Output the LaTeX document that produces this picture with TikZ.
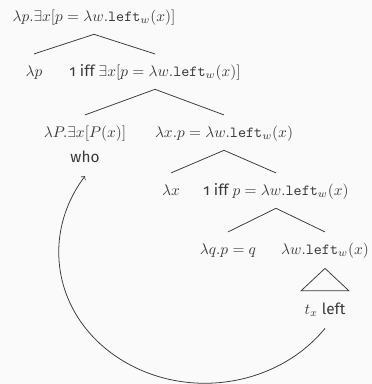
\documentclass[tikz,border=0pt]{standalone}
\usepackage{fontspec}
\setmainfont{Fira Sans}[Numbers=OldStyle,RawFeature=+onum]
\definecolor{ink}{HTML}{3A3A3A}
\definecolor{paper}{HTML}{FAFAFA}
\newcommand{\lft}{\texttt{left}}
\begin{document}
\begin{tikzpicture}[x=0.65pt,y=-0.65pt,
  lbl/.style={inner sep=0pt,text height=8pt,text depth=2.5pt,text=ink},
  br/.style={draw=ink,line width=0.5pt}]
\useasboundingbox (0,0) rectangle (372,384);
\fill[paper] (0,0) rectangle (372,384);
% the tree
\node[lbl] (root) at (94,17) {$\lambda p.\exists x[p = \lambda w.\lft_w(x)]$};
\node[lbl] (lp) at (34,72) {$\lambda p$};
\node[lbl] (iffa) at (155,72) {1 iff $\exists x[p = \lambda w.\lft_w(x)]$};
\node[lbl] (qdet) at (85,133) {$\lambda P.\exists x[P(x)]$};
\node[lbl] (who) at (85,158) {who};
\node[lbl] (lxa) at (224,133) {$\lambda x.p = \lambda w.\lft_w(x)$};
\node[lbl] (lx) at (171,191) {$\lambda x$};
\node[lbl] (iffb) at (276,191) {1 iff $p = \lambda w.\lft_w(x)$};
\node[lbl] (lq) at (228,250) {$\lambda q.p = q$};
\node[lbl] (lw) at (325,250) {$\lambda w.\lft_w(x)$};
\node[lbl] (tl) at (325,310) {$t_x$ left};
\foreach \p/\l/\r in {root/lp/iffa,iffa/qdet/lxa,lxa/lx/iffb,iffb/lq/lw}{
  \draw[br] ([yshift=6.3pt]\l.north) -- ([yshift=-5.8pt]\p.south) -- ([yshift=6.3pt]\r.north);}
\draw[br] ([yshift=-6.5pt]lw.south) -- ([xshift=-15.6pt,yshift=7pt]tl.north)
  -- ([xshift=15.6pt,yshift=7pt]tl.north) -- cycle;
% movement arrow
\coordinate (mvfrom) at ([yshift=-6.5pt]tl.south);
\coordinate (mvto) at ([yshift=-6.3pt]who.south);
\draw[br,->] (mvfrom) .. controls (277,387) and (186,401) .. (120,359)
  .. controls (54,317) and (40,236) .. (mvto);
\end{tikzpicture}
\end{document}
